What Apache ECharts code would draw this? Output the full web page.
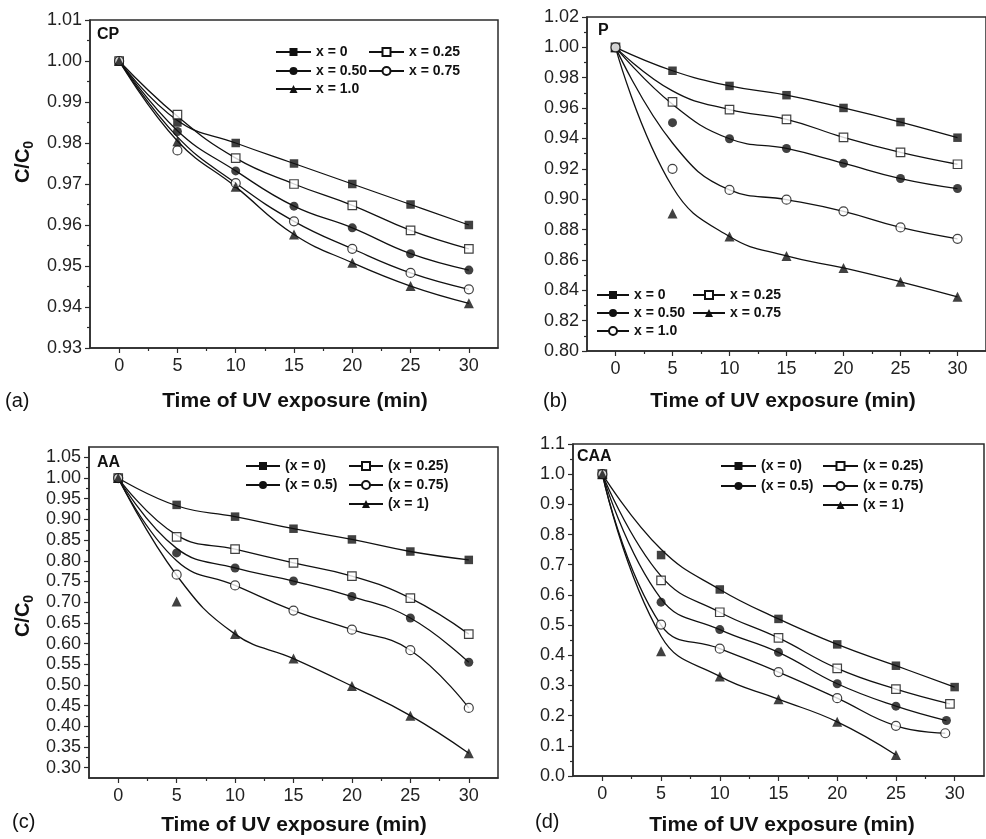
<!DOCTYPE html>
<html>
<head>
<meta charset="utf-8">
<script src="https://cdn.jsdelivr.net/npm/echarts@6/dist/echarts.min.js"></script>
<style>
  html, body { margin: 0; padding: 0; background: #fff; }
  #chart { width: 986px; height: 839px; }
</style>
</head>
<body>
<div id="chart"></div>
<script>
// ---- sampling times (min) and axis ticks ----
const times = [0, 5, 10, 15, 20, 25, 30];
const timeTicks = [0, 5, 10, 15, 20, 25, 30];

// ---- (a) CP : C/C0 ----
const cpX0   = [1.000, 0.9850, 0.9800, 0.9750, 0.9700, 0.9650, 0.9600];
const cpX025 = [1.000, 0.9869, 0.9763, 0.9700, 0.9648, 0.9587, 0.9542];
const cpX050 = [1.000, 0.9828, 0.9732, 0.9646, 0.9593, 0.9530, 0.9490];
const cpX075 = [1.000, 0.9782, 0.9702, 0.9609, 0.9542, 0.9483, 0.9443];
const cpX100 = [1.000, 0.9804, 0.9693, 0.9577, 0.9508, 0.9451, 0.9409];
// height of each fitted curve at t = 5 min (x = 0, 0.25, 0.50, 0.75, 1.0)
const cpCurveAt5 = [0.9855, 0.9865, 0.9830, 0.9815, 0.9805];
const cpYTicks = [0.93, 0.94, 0.95, 0.96, 0.97, 0.98, 0.99, 1.00, 1.01];

// ---- (b) P ----
const pX0   = [1.000, 0.9846, 0.9746, 0.9685, 0.9601, 0.9508, 0.9405];
const pX025 = [1.000, 0.9641, 0.9590, 0.9526, 0.9407, 0.9308, 0.9230];
const pX050 = [1.000, 0.9504, 0.9398, 0.9334, 0.9237, 0.9136, 0.9070];
const pX075 = [1.000, 0.8906, 0.8754, 0.8626, 0.8547, 0.8456, 0.8357];
const pX100 = [1.000, 0.9200, 0.9061, 0.8997, 0.8920, 0.8814, 0.8739];
const pCurveAt5 = [0.9846, 0.9713, 0.9625, 0.9080, 0.9370];
const pYTicks = [0.80, 0.82, 0.84, 0.86, 0.88, 0.90, 0.92, 0.94, 0.96, 0.98, 1.00, 1.02];

// ---- (c) AA ----
const aaX0   = [1.000, 0.9351, 0.9067, 0.8775, 0.8516, 0.8224, 0.8021];
const aaX025 = [1.000, 0.8580, 0.8280, 0.7948, 0.7631, 0.7096, 0.6228];
const aaX05  = [1.000, 0.8191, 0.7826, 0.7510, 0.7136, 0.6617, 0.5547];
const aaX075 = [1.000, 0.7664, 0.7404, 0.6796, 0.6334, 0.5839, 0.4443];
const aaX1   = [1.000, 0.7015, 0.6228, 0.5636, 0.4971, 0.4257, 0.3349];
const aaCurveAt5 = [0.933, 0.862, 0.830, 0.800, 0.765];
const aaYTicks = [0.30, 0.35, 0.40, 0.45, 0.50, 0.55, 0.60, 0.65, 0.70, 0.75, 0.80, 0.85, 0.90, 0.95, 1.00, 1.05];

// ---- (d) CAA ----
const caaT0   = [0, 5, 10, 15, 20, 25, 30];
const caaT025 = [0, 5, 10, 15, 20, 25, 29.6];
const caaT05  = [0, 5, 10, 15, 20, 25, 29.3];
const caaT075 = [0, 5, 10, 15, 20, 25, 29.2];
const caaT1   = [0, 5, 10, 15, 20, 25];
const caaX0   = [1.000, 0.732, 0.618, 0.5205, 0.436, 0.3654, 0.2946];
const caaX025 = [1.000, 0.648, 0.5426, 0.4574, 0.3566, 0.2879, 0.2392];
const caaX05  = [1.000, 0.5759, 0.485, 0.4097, 0.3056, 0.2315, 0.1838];
const caaX075 = [1.000, 0.5017, 0.4219, 0.3444, 0.258, 0.1661, 0.1417];
const caaX1   = [1.000, 0.413, 0.330, 0.2547, 0.1794, 0.0698];
const caaCurveAt5 = [0.751, 0.662, 0.587, 0.500, 0.463];
const caaYTicks = [0.0, 0.1, 0.2, 0.3, 0.4, 0.5, 0.6, 0.7, 0.8, 0.9, 1.0, 1.1];

// ---- styling ----
const AX = '#2b2b2b';
const INK = '#111';
const FONT = '"Liberation Sans", Arial, Helvetica, sans-serif';

function midTicks(arr) {
  const out = [];
  for (let i = 0; i < arr.length - 1; i++) out.push(+((arr[i] + arr[i + 1]) / 2).toFixed(4));
  return out;
}

const panels = [
  {
    key: 'CP', rect: { left: 90, top: 20, width: 408, height: 328 },
    yMin: 0.93, yMax: 1.01, yTicks: cpYTicks, digits: 2, legendW: 35,
    tag: { x: 97, y: 35 }, letter: { text: '(a)', x: 5, y: 401 }, title: { x: 295, y: 401 },
    ylabel: { x: 23, y: 162 },
    groups: [
      { label: 'x = 0',    t: times, v: cpX0,   at5: cpCurveAt5[0], sym: 'rect',     open: false, leg: [275, 53] },
      { label: 'x = 0.25', t: times, v: cpX025, at5: cpCurveAt5[1], sym: 'rect',     open: true,  leg: [368, 53] },
      { label: 'x = 0.50', t: times, v: cpX050, at5: cpCurveAt5[2], sym: 'circle',   open: false, leg: [275, 72] },
      { label: 'x = 0.75', t: times, v: cpX075, at5: cpCurveAt5[3], sym: 'circle',   open: true,  leg: [368, 72] },
      { label: 'x = 1.0',  t: times, v: cpX100, at5: cpCurveAt5[4], sym: 'triangle', open: false, leg: [275, 90] }
    ]
  },
  {
    key: 'P', rect: { left: 587, top: 17, width: 411, height: 334 },
    yMin: 0.80, yMax: 1.02, yTicks: pYTicks, digits: 2, legendW: 32,
    tag: { x: 598, y: 31 }, letter: { text: '(b)', x: 543, y: 401 }, title: { x: 783, y: 401 },
    ylabel: null,
    groups: [
      { label: 'x = 0',    t: times, v: pX0,   at5: pCurveAt5[0], sym: 'rect',     open: false, leg: [596, 296] },
      { label: 'x = 0.25', t: times, v: pX025, at5: pCurveAt5[1], sym: 'rect',     open: true,  leg: [692, 296] },
      { label: 'x = 0.50', t: times, v: pX050, at5: pCurveAt5[2], sym: 'circle',   open: false, leg: [596, 314] },
      { label: 'x = 0.75', t: times, v: pX075, at5: pCurveAt5[3], sym: 'triangle', open: false, leg: [692, 314] },
      { label: 'x = 1.0',  t: times, v: pX100, at5: pCurveAt5[4], sym: 'circle',   open: true,  leg: [596, 332] }
    ]
  },
  {
    key: 'AA', rect: { left: 89, top: 447, width: 409, height: 331 },
    yMin: 0.275, yMax: 1.075, yTicks: aaYTicks, digits: 2, legendW: 34,
    tag: { x: 97, y: 463 }, letter: { text: '(c)', x: 12, y: 822 }, title: { x: 294, y: 825 },
    ylabel: { x: 23, y: 616 },
    groups: [
      { label: '(x = 0)',    t: times, v: aaX0,   at5: aaCurveAt5[0], sym: 'rect',     open: false, leg: [245, 467] },
      { label: '(x = 0.25)', t: times, v: aaX025, at5: aaCurveAt5[1], sym: 'rect',     open: true,  leg: [348, 467] },
      { label: '(x = 0.5)',  t: times, v: aaX05,  at5: aaCurveAt5[2], sym: 'circle',   open: false, leg: [245, 486] },
      { label: '(x = 0.75)', t: times, v: aaX075, at5: aaCurveAt5[3], sym: 'circle',   open: true,  leg: [348, 486] },
      { label: '(x = 1)',    t: times, v: aaX1,   at5: aaCurveAt5[4], sym: 'triangle', open: false, leg: [348, 505] }
    ]
  },
  {
    key: 'CAA', rect: { left: 573, top: 444, width: 411, height: 332 },
    yMin: 0, yMax: 1.1, yTicks: caaYTicks, digits: 1, legendW: 35,
    tag: { x: 577, y: 457 }, letter: { text: '(d)', x: 535, y: 822 }, title: { x: 782, y: 825 },
    ylabel: null,
    groups: [
      { label: '(x = 0)',    t: caaT0,   v: caaX0,   at5: caaCurveAt5[0], sym: 'rect',     open: false, leg: [720, 467] },
      { label: '(x = 0.25)', t: caaT025, v: caaX025, at5: caaCurveAt5[1], sym: 'rect',     open: true,  leg: [822, 467] },
      { label: '(x = 0.5)',  t: caaT05,  v: caaX05,  at5: caaCurveAt5[2], sym: 'circle',   open: false, leg: [720, 487] },
      { label: '(x = 0.75)', t: caaT075, v: caaX075, at5: caaCurveAt5[3], sym: 'circle',   open: true,  leg: [822, 487] },
      { label: '(x = 1)',    t: caaT1,   v: caaX1,   at5: caaCurveAt5[4], sym: 'triangle', open: false, leg: [822, 506] }
    ]
  }
];

const option = {
  animation: false,
  backgroundColor: '#fff',
  grid: [], xAxis: [], yAxis: [], series: [], legend: [], graphic: []
};

const tickStyle = { color: AX, width: 1.2 };

panels.forEach((p, k) => {
  const g = 2 * k;
  // main frame + axes with major ticks and labels
  option.grid.push(Object.assign({}, p.rect, {
    show: true, borderColor: AX, borderWidth: 1.5, backgroundColor: 'transparent'
  }));
  // overlay grid carrying the minor ticks
  option.grid.push(Object.assign({}, p.rect, { show: false }));

  option.xAxis.push({
    type: 'value', gridIndex: g, min: -2.5, max: 32.5, position: 'bottom',
    axisLine: { show: true, onZero: false, lineStyle: { color: AX, width: 1.5 } },
    axisTick: { show: true, customValues: timeTicks, length: 5, lineStyle: tickStyle },
    axisLabel: { customValues: timeTicks, fontSize: 18, color: '#222', fontFamily: FONT, margin: 9 },
    splitLine: { show: false }
  });
  option.xAxis.push({
    type: 'value', gridIndex: g + 1, min: -2.5, max: 32.5, position: 'bottom',
    axisLine: { show: false, onZero: false },
    axisTick: { show: true, customValues: midTicks(timeTicks), length: 3, lineStyle: tickStyle },
    axisLabel: { show: false }, splitLine: { show: false }
  });
  option.yAxis.push({
    type: 'value', gridIndex: g, min: p.yMin, max: p.yMax, position: 'left',
    axisLine: { show: true, onZero: false, lineStyle: { color: AX, width: 1.5 } },
    axisTick: { show: true, customValues: p.yTicks, length: 5, lineStyle: tickStyle },
    axisLabel: {
      customValues: p.yTicks, fontSize: 18, color: '#222', fontFamily: FONT, margin: 8,
      formatter: v => Number(v).toFixed(p.digits)
    },
    splitLine: { show: false }
  });
  option.yAxis.push({
    type: 'value', gridIndex: g + 1, min: p.yMin, max: p.yMax, position: 'left',
    axisLine: { show: false, onZero: false },
    axisTick: { show: true, customValues: midTicks(p.yTicks), length: 3, lineStyle: tickStyle },
    axisLabel: { show: false }, splitLine: { show: false }
  });

  p.groups.forEach(s => {
    const name = p.key + '#' + s.label;
    const pts = s.t.map((t, i) => [t, s.v[i]]);
    const curve = s.t.map((t, i) => [t, t === 5 ? s.at5 : s.v[i]]);
    const size = s.sym === 'triangle' ? 10 : (s.sym === 'circle' ? 9 : 8.5);
    // smoothed fit through the measurements
    option.series.push({
      type: 'line', name: name, xAxisIndex: g, yAxisIndex: g,
      data: curve, smooth: 0.45, showSymbol: false,
      symbol: s.open ? 'empty' + s.sym[0].toUpperCase() + s.sym.slice(1) : s.sym,
      symbolSize: size,
      lineStyle: { color: INK, width: 1.3 },
      itemStyle: { color: INK },
      z: 2, silent: true
    });
    // measured points
    option.series.push({
      type: 'scatter', name: name + '#pts', xAxisIndex: g, yAxisIndex: g,
      data: pts, symbol: s.sym, symbolSize: size,
      itemStyle: s.open ? { color: '#fff', borderColor: INK, borderWidth: 1.2 } : { color: INK },
      z: 3, silent: true
    });
    option.legend.push({
      left: s.leg[0], top: s.leg[1] - 8, padding: 0, selectedMode: false,
      itemWidth: p.legendW, itemHeight: 10, itemGap: 0,
      data: [name],
      formatter: n => n.split('#')[1],
      textStyle: { fontSize: 14, fontWeight: 'bold', color: INK, fontFamily: FONT }
    });
  });

  // panel tag, letter, x title, y title
  option.graphic.push({
    type: 'text', x: p.tag.x, y: p.tag.y,
    style: { text: p.key, font: 'bold 16px ' + FONT, fill: INK, align: 'left', verticalAlign: 'middle' }
  });
  option.graphic.push({
    type: 'text', x: p.letter.x, y: p.letter.y,
    style: { text: p.letter.text, font: '20px ' + FONT, fill: INK, align: 'left', verticalAlign: 'middle' }
  });
  option.graphic.push({
    type: 'text', x: p.title.x, y: p.title.y,
    style: { text: 'Time of UV exposure (min)', font: 'bold 21px ' + FONT, fill: INK, align: 'center', verticalAlign: 'middle' }
  });
  if (p.ylabel) {
    option.graphic.push({
      type: 'text', x: p.ylabel.x, y: p.ylabel.y, rotation: Math.PI / 2,
      style: {
        text: '{m|C/C}{s|0}', align: 'center', verticalAlign: 'middle',
        rich: {
          m: { font: 'bold 20px ' + FONT, fill: INK, lineHeight: 26 },
          s: { font: 'bold 14px ' + FONT, fill: INK, lineHeight: 26, verticalAlign: 'bottom' }
        }
      }
    });
  }
});

const chart = echarts.init(document.getElementById('chart'), null, { renderer: 'canvas' });
chart.setOption(option);
</script>
</body>
</html>
